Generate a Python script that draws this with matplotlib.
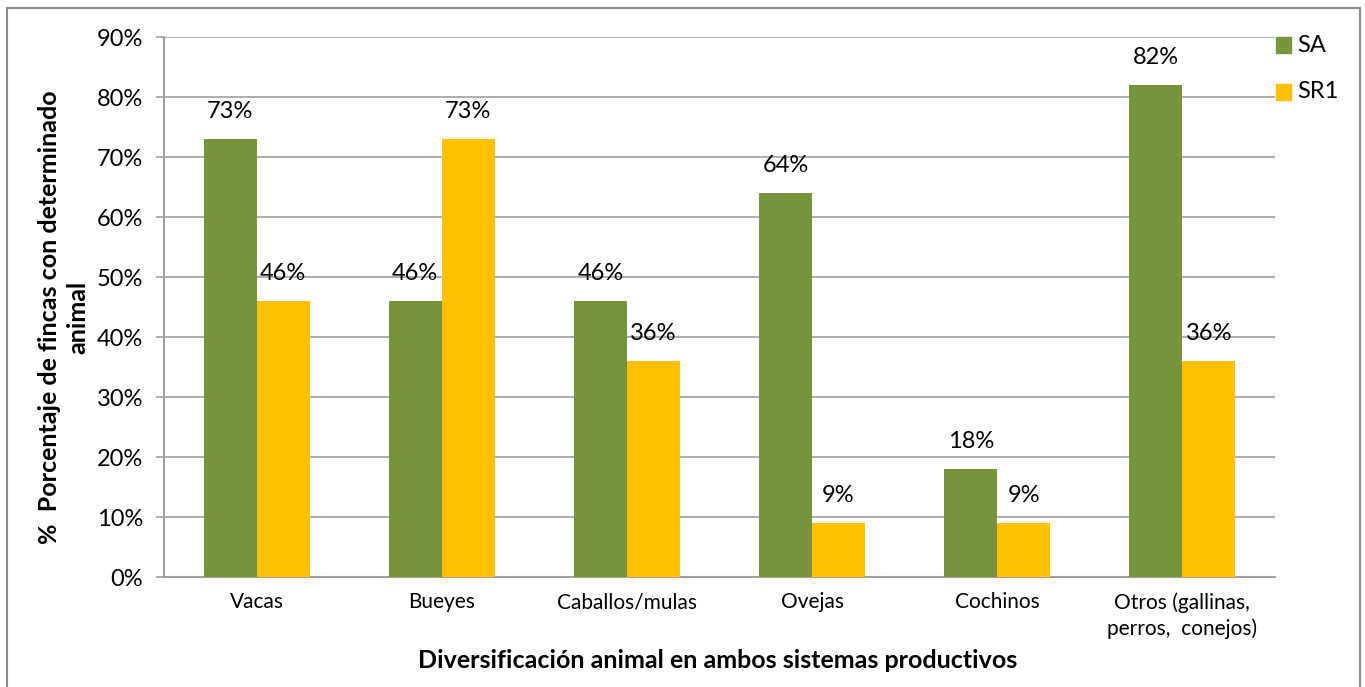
import matplotlib
matplotlib.use("Agg")
import matplotlib.pyplot as plt
import numpy as np
from matplotlib.patches import Rectangle

categories = ["Vacas", "Bueyes", "Caballos/mulas", "Ovejas", "Cochinos",
              "Otros (gallinas,\nperros,  conejos)"]
sa_values = [73, 46, 46, 64, 18, 82]
sr1_values = [46, 73, 36, 9, 9, 36]
series_names = ["SA", "SR1"]
y_ticks = [0, 10, 20, 30, 40, 50, 60, 70, 80, 90]

green = "#77933C"
yellow = "#FFC000"
grid_col = "#A0A0A0"

plt.rcParams["font.family"] = ["Lato", "DejaVu Sans"]

fig = plt.figure(figsize=(13.65, 6.87), dpi=100)
W, H = 1365, 687
ax = fig.add_axes([164 / W, 1 - 577 / H, (1275 - 164) / W, (577 - 37) / H])

x = np.arange(len(categories))
bw = 0.286
b1 = ax.bar(x - bw / 2, sa_values, bw, color=green, label=series_names[0], zorder=3)
b2 = ax.bar(x + bw / 2, sr1_values, bw, color=yellow, label=series_names[1], zorder=3)

for bars, vals in ((b1, sa_values), (b2, sr1_values)):
    for r, v in zip(bars, vals):
        ax.annotate(f"{v}%", (r.get_x() + r.get_width() / 2, v),
                    xytext=(0, 19.5), textcoords="offset points",
                    ha="center", va="center", fontsize=17, color="#000000")

ax.set_xlim(-0.5, len(categories) - 0.5)
ax.set_ylim(0, 90)
ax.set_yticks(y_ticks)
ax.set_yticklabels([f"{t}%" for t in y_ticks], fontsize=17)
ax.set_xticks(x)
ax.set_xticklabels(categories, fontsize=15, linespacing=1.35)
ax.tick_params(axis="x", length=0, pad=11)
ax.tick_params(axis="y", length=6, width=1.2, color=grid_col, pad=9)
ax.grid(axis="y", color=grid_col, linewidth=1.2, zorder=0)
for s in ["top", "right"]:
    ax.spines[s].set_visible(False)
for s in ["left", "bottom"]:
    ax.spines[s].set_color(grid_col)
    ax.spines[s].set_linewidth(1.5)

fig.text(718 / W, 1 - 661 / H,
         "Diversificación animal en ambos sistemas productivos",
         ha="center", va="center", fontsize=18, fontweight="bold")
fig.text(64 / W, 1 - 317 / H,
         "%  Porcentaje de fincas con determinado\nanimal",
         rotation=90, ha="center", va="center", fontsize=18,
         fontweight="bold", multialignment="center", linespacing=1.3)

# legend
for i, (name, col) in enumerate(zip(series_names, [green, yellow])):
    yc = 45 + i * 47
    fig.patches.append(Rectangle((1276 / W, 1 - (yc + 7.5) / H), 15 / W, 15 / H,
                                 transform=fig.transFigure, color=col))
    fig.text(1297 / W, 1 - yc / H, name, fontsize=17, va="center", ha="left")

# chart border
fig.patches.append(Rectangle((7 / W, -0.05), (1360 - 7) / W, 1 - 8 / H + 0.05,
                             transform=fig.transFigure, fill=False,
                             edgecolor="#8C8C8C", linewidth=1.5))

fig.savefig("out.png", dpi=100)
